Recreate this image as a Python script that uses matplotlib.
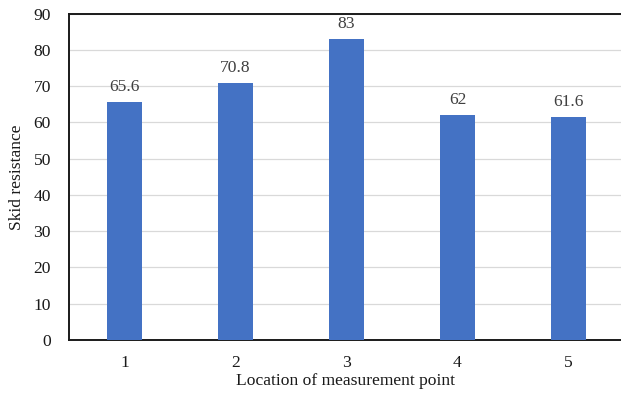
import matplotlib
matplotlib.use("Agg")
import matplotlib.pyplot as plt

locations = [1, 2, 3, 4, 5]
skid_resistance = [65.6, 70.8, 83, 62, 61.6]
value_labels = ["65.6", "70.8", "83", "62", "61.6"]
y_ticks = [0, 10, 20, 30, 40, 50, 60, 70, 80, 90]

plt.rcParams["font.family"] = ["Liberation Serif", "DejaVu Serif"]

W, H = 621, 394
fig = plt.figure(figsize=(W / 100, H / 100), dpi=100)
left, right, top, bottom = 69, 621, 13.5, 340
ax = fig.add_axes([left / W, 1 - bottom / H, (right - left) / W, (bottom - top) / H])

fs = 12.6
bar_color = "#4472C4"
ax.bar(locations, skid_resistance, width=0.315, color=bar_color, zorder=3)

for x, v, lab in zip(locations, skid_resistance, value_labels):
    ax.annotate(lab, (x, v), xytext=(0, 5), textcoords="offset points",
                ha="center", va="bottom", fontsize=fs, color="#404040")

ax.set_xlim(0.5, 5.473)
ax.set_ylim(0, 90)
ax.set_yticks(y_ticks)
ax.set_xticks(locations)
ax.set_xticklabels([str(l) for l in locations])
ax.tick_params(axis="both", length=0, labelsize=fs, colors="#1a1a1a")
ax.tick_params(axis="x", pad=11)
ax.tick_params(axis="y", pad=13)

ax.yaxis.grid(True, color="#d9d9d9", linewidth=0.9, zorder=0)
ax.set_axisbelow(True)

for side in ["left", "bottom", "top"]:
    ax.spines[side].set_color("#1a1a1a")
    ax.spines[side].set_linewidth(1.4)
ax.spines["right"].set_visible(False)

ax.set_ylabel("Skid resistance", fontsize=fs, color="#1a1a1a", labelpad=6)
ax.set_xlabel("Location of measurement point", fontsize=fs, color="#1a1a1a", labelpad=1)

fig.savefig("out.png", dpi=100, facecolor="white")
